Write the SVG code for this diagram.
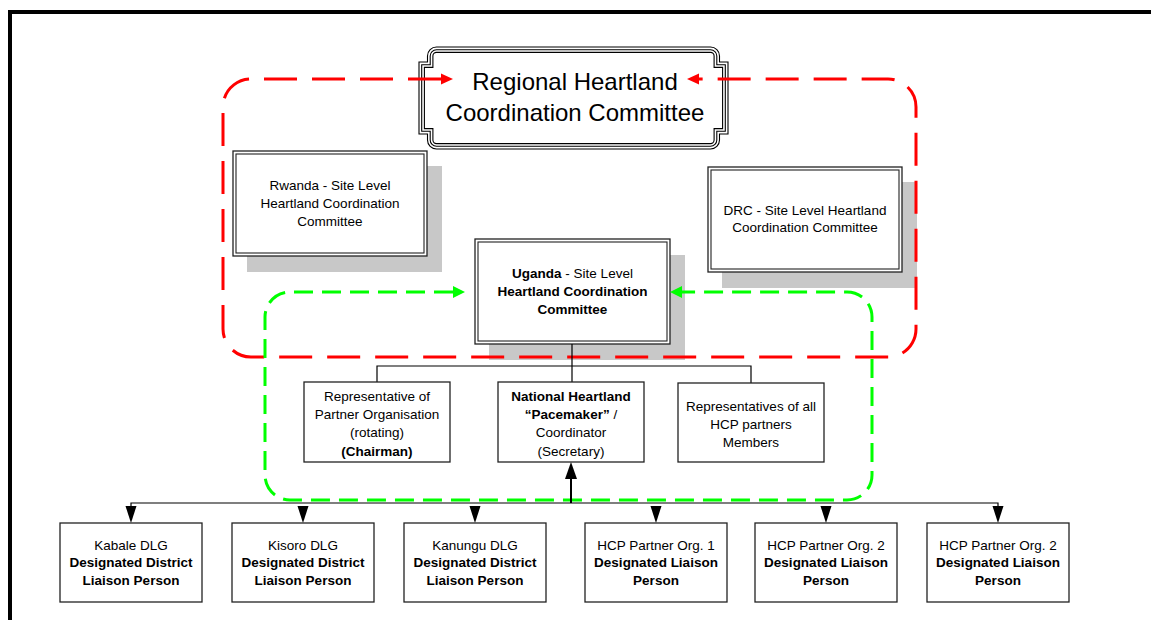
<svg xmlns="http://www.w3.org/2000/svg" width="1151" height="620" viewBox="0 0 1151 620">
<style>
text{font-family:"Liberation Sans",Arial,sans-serif;fill:#000;text-anchor:middle}
.s{font-size:13.5px}
.t{font-size:24px}
.b{font-weight:bold}
.box{fill:#fff;stroke:#222;stroke-width:1.3}
.dbl{fill:none;stroke:#222;stroke-width:1.1}
.sh{fill:#c8c8c8}
.fr{fill:none;stroke:#000;stroke-width:1.1}
.ln{fill:none;stroke:#000;stroke-width:1.2}
.red{fill:none;stroke:#ff0000;stroke-width:3;stroke-dasharray:33 15}
.grn{fill:none;stroke:#00ff00;stroke-width:3;stroke-dasharray:19 9}
</style>
<rect width="1151" height="620" fill="#fff"/>
<path d="M10,620 V12 H1151" fill="none" stroke="#000" stroke-width="4"/>

<g id="regional">
<path d="M436.5,47 H710.5 A9,9 0 0 1 719.5,56 V62 H728 V134 H719.5 V140 A9,9 0 0 1 710.5,149 H436.5 A9,9 0 0 1 427.5,140 V134 H419 V62 H427.5 V56 A9,9 0 0 1 436.5,47 Z" fill="#fff" stroke="#000" stroke-width="1.1"/>
<path class="fr" d="M436.5,49.7 H710.5 A6.3,6.3 0 0 1 716.8,56 V64.7 H725.3 V131.3 H716.8 V140 A6.3,6.3 0 0 1 710.5,146.3 H436.5 A6.3,6.3 0 0 1 430.2,140 V131.3 H421.7 V64.7 H430.2 V56 A6.3,6.3 0 0 1 436.5,49.7 Z"/>
<path class="fr" d="M436.5,52.4 H710.5 A3.6,3.6 0 0 1 714.1,56 V67.4 H722.6 V128.6 H714.1 V140 A3.6,3.6 0 0 1 710.5,143.6 H436.5 A3.6,3.6 0 0 1 432.9,140 V128.6 H424.4 V67.4 H432.9 V56 A3.6,3.6 0 0 1 436.5,52.4 Z"/>
<text class="t" x="575" y="90">Regional Heartland</text>
<text class="t" x="575" y="121">Coordination Committee</text>
</g>

<g id="rwanda">
<rect class="sh" x="247" y="166" width="195" height="106"/>
<rect class="box" x="233" y="151" width="194" height="105"/>
<rect class="dbl" x="236" y="154" width="188" height="99"/>
<text class="s" x="330" y="190">Rwanda - Site Level</text>
<text class="s" x="330" y="208">Heartland Coordination</text>
<text class="s" x="330" y="226">Committee</text>
</g>

<g id="drc">
<rect class="sh" x="722" y="182" width="195" height="106"/>
<rect class="box" x="708" y="167" width="194" height="105"/>
<rect class="dbl" x="711" y="170" width="188" height="99"/>
<text class="s" x="805" y="215">DRC - Site Level Heartland</text>
<text class="s" x="805" y="232">Coordination Committee</text>
</g>

<g id="uganda">
<rect class="sh" x="489" y="255" width="196" height="105"/>
<rect class="box" x="475" y="239" width="195" height="105"/>
<rect class="dbl" x="478" y="242" width="189" height="99"/>
<text class="s" x="572.5" y="278"><tspan class="b">Uganda</tspan> - Site Level</text>
<text class="s b" x="572.5" y="296">Heartland Coordination</text>
<text class="s b" x="572.5" y="314">Committee</text>
</g>

<g id="connectors">
<path class="red" d="M441,79 H251 A28,28 0 0 0 223,107 V329 A28,28 0 0 0 251,357 H888 A28,28 0 0 0 916,329 V107 A28,28 0 0 0 888,79 H699"/>
<polygon points="453,79 441,73.5 441,84.5" fill="#ff0000"/>
<polygon points="687,79 699,73.5 699,84.5" fill="#ff0000"/>
<path class="grn" d="M453,292 H290 A25,25 0 0 0 265,317 V475 A25,25 0 0 0 290,500 H847 A25,25 0 0 0 872,475 V317 A25,25 0 0 0 847,292 H682"/>
<polygon points="465,292 453,286 453,298" fill="#00ff00"/>
<polygon points="670,292 682,286 682,298" fill="#00ff00"/>
<path class="ln" d="M572,344 V366 M377,382 V366 H751 V383 M572,366 V382"/>
<path class="ln" d="M131,507 V503 H998 V507"/>
<path d="M571,503 V478" stroke="#000" stroke-width="2" fill="none"/>
<polygon points="571,462 565,479 577,479" fill="#000"/>
<g fill="#000">
<polygon points="131,523 125.5,506 136.5,506"/>
<polygon points="303,523 297.5,506 308.5,506"/>
<polygon points="475,523 469.5,506 480.5,506"/>
<polygon points="656,523 650.5,506 661.5,506"/>
<polygon points="826,523 820.5,506 831.5,506"/>
<polygon points="998,523 992.5,506 1003.5,506"/>
</g>
</g>

<g id="chairman">
<rect class="box" x="304" y="382" width="146" height="80"/>
<text class="s" x="377" y="401">Representative of</text>
<text class="s" x="377" y="419">Partner Organisation</text>
<text class="s" x="377" y="437">(rotating)</text>
<text class="s b" x="377" y="456">(Chairman)</text>
</g>

<g id="pacemaker">
<rect class="box" x="498" y="382" width="146" height="80"/>
<text class="s b" x="571" y="401">National Heartland</text>
<text class="s" x="571" y="419"><tspan class="b">“Pacemaker”</tspan> /</text>
<text class="s" x="571" y="437">Coordinator</text>
<text class="s" x="571" y="456">(Secretary)</text>
</g>

<g id="members">
<rect class="box" x="678" y="383" width="146" height="79"/>
<text class="s" x="751" y="411">Representatives of all</text>
<text class="s" x="751" y="429">HCP partners</text>
<text class="s" x="751" y="447">Members</text>
</g>

<g id="kabale">
<rect class="box" x="60" y="523" width="142" height="79"/>
<text class="s" x="131" y="550">Kabale DLG</text>
<text class="s b" x="131" y="567">Designated District</text>
<text class="s b" x="131" y="585">Liaison Person</text>
</g>
<g id="kisoro">
<rect class="box" x="232" y="523" width="142" height="79"/>
<text class="s" x="303" y="550">Kisoro DLG</text>
<text class="s b" x="303" y="567">Designated District</text>
<text class="s b" x="303" y="585">Liaison Person</text>
</g>
<g id="kanungu">
<rect class="box" x="404" y="523" width="142" height="79"/>
<text class="s" x="475" y="550">Kanungu DLG</text>
<text class="s b" x="475" y="567">Designated District</text>
<text class="s b" x="475" y="585">Liaison Person</text>
</g>
<g id="hcp1">
<rect class="box" x="585" y="523" width="142" height="79"/>
<text class="s" x="656" y="550">HCP Partner Org. 1</text>
<text class="s b" x="656" y="567">Designated Liaison</text>
<text class="s b" x="656" y="585">Person</text>
</g>
<g id="hcp2">
<rect class="box" x="755" y="523" width="142" height="79"/>
<text class="s" x="826" y="550">HCP Partner Org. 2</text>
<text class="s b" x="826" y="567">Designated Liaison</text>
<text class="s b" x="826" y="585">Person</text>
</g>
<g id="hcp3">
<rect class="box" x="927" y="523" width="142" height="79"/>
<text class="s" x="998" y="550">HCP Partner Org. 2</text>
<text class="s b" x="998" y="567">Designated Liaison</text>
<text class="s b" x="998" y="585">Person</text>
</g>
</svg>
